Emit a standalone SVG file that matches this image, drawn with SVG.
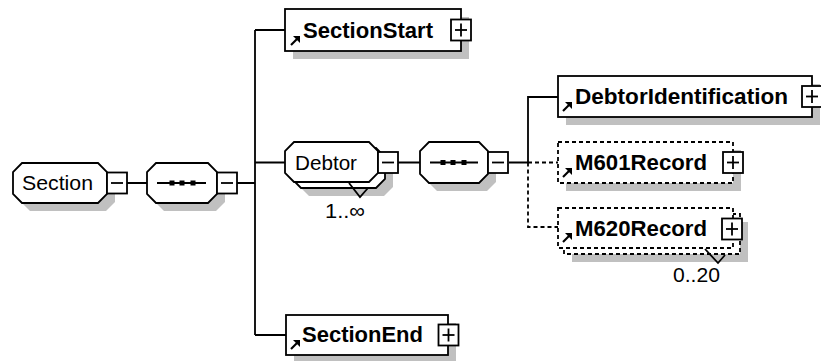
<svg xmlns="http://www.w3.org/2000/svg" xmlns:xlink="http://www.w3.org/1999/xlink" width="821" height="361" viewBox="0 0 821 361">
<defs>
<style>
.sh{fill:#c0c0c0;stroke:none}
.bx{fill:#fff;stroke:#000;stroke-width:1.8}
.ds{stroke-dasharray:4 3}
.ln{fill:none;stroke:#000;stroke-width:1.8}
.t{font-family:"Liberation Sans",Arial,sans-serif;font-size:21px;fill:#000}
.b{font-weight:bold;font-size:22px}
</style>
<g id="arr"><line x1="1" y1="9" x2="7" y2="3" stroke="#000" stroke-width="2.2"/><polygon points="10,0 10,7 3,0" fill="#000"/></g>
<g id="minus"><rect class="bx" x="0" y="0" width="20" height="21"/><line x1="4" y1="10.5" x2="16" y2="10.5" stroke="#000" stroke-width="1.8"/></g>
<g id="plus"><rect class="bx" x="0" y="0" width="20" height="21"/><line x1="4" y1="10.5" x2="16" y2="10.5" stroke="#000" stroke-width="1.8"/><line x1="10" y1="4" x2="10" y2="17" stroke="#000" stroke-width="1.8"/></g>
</defs>
<rect width="821" height="361" fill="#fff"/>

<g id="connectors">
<path class="ln" d="M127,183H147M237,183H255M255,30V335M255,30H285M255,162.5H285M255,335H286M398,162.5H420M509,162.5H528M528,162.5V97H558"/>
<path class="ln ds" d="M528,162.5H558M528,162.5V227H558"/>
</g>

<g id="section">
<path class="sh" transform="translate(8,8)" d="M22,163H98L107,172V194L98,203H22L13,194V172Z"/>
<path class="bx" d="M22,163H98L107,172V194L98,203H22L13,194V172Z"/>
<text class="t" x="22" y="190" textLength="71" lengthAdjust="spacingAndGlyphs">Section</text>
<use xlink:href="#minus" x="107" y="172.5"/>
</g>

<g id="seq1">
<path class="sh" transform="translate(8,8)" d="M156,163H208L217,172V194L208,203H156L147,194V172Z"/>
<path class="bx" d="M156,163H208L217,172V194L208,203H156L147,194V172Z"/>
<line x1="157" y1="183" x2="206" y2="183" stroke="#000" stroke-width="1.8"/>
<rect x="169.5" y="180.5" width="5" height="5"/><rect x="179.5" y="180.5" width="5" height="5"/><rect x="190.5" y="180.5" width="5" height="5"/>
<use xlink:href="#minus" x="217" y="172.5"/>
</g>

<g id="sectionstart">
<rect class="sh" x="293" y="17" width="176" height="42"/>
<rect class="bx" x="285" y="9" width="176" height="42"/>
<text class="t b" x="303" y="37.5" textLength="130" lengthAdjust="spacingAndGlyphs">SectionStart</text>
<use xlink:href="#arr" x="290" y="36"/>
<use xlink:href="#plus" x="451" y="19.5"/>
</g>

<g id="debtor">
<path class="sh" transform="translate(15,14)" d="M294,142H369L378,151V173L369,182H294L285,173V151Z"/>
<path class="bx" transform="translate(7,6)" d="M294,142H369L378,151V173L369,182H294L285,173V151Z"/>
<path class="bx" d="M294,142H369L378,151V173L369,182H294L285,173V151Z"/>
<text class="t" x="295" y="170" textLength="62" lengthAdjust="spacingAndGlyphs">Debtor</text>
<use xlink:href="#minus" x="378" y="152"/>
<polyline class="ln" points="349,183 360,197 368,188"/>
<text class="t" x="325" y="218" textLength="40" lengthAdjust="spacingAndGlyphs">1..∞</text>
</g>

<g id="seq2">
<path class="sh" transform="translate(8,8)" d="M429,142H479L488,151V174L479,183H429L420,174V151Z"/>
<path class="bx" d="M429,142H479L488,151V174L479,183H429L420,174V151Z"/>
<line x1="430" y1="162.5" x2="478" y2="162.5" stroke="#000" stroke-width="1.8"/>
<rect x="440.5" y="160" width="5" height="5"/><rect x="450.5" y="160" width="5" height="5"/><rect x="461.5" y="160" width="5" height="5"/>
<use xlink:href="#minus" x="488" y="152"/>
</g>

<g id="debtoridentification">
<rect class="sh" x="566" y="84" width="254" height="41"/>
<rect class="bx" x="558" y="76" width="254" height="41"/>
<text class="t b" x="575" y="104" textLength="213" lengthAdjust="spacingAndGlyphs">DebtorIdentification</text>
<use xlink:href="#arr" x="562" y="102"/>
<use xlink:href="#plus" x="802" y="86"/>
</g>

<g id="m601record">
<rect class="sh" x="566" y="150" width="175" height="41"/>
<rect class="bx ds" x="558" y="142" width="175" height="41"/>
<text class="t b" x="575" y="170" textLength="132" lengthAdjust="spacingAndGlyphs">M601Record</text>
<use xlink:href="#arr" x="562" y="168"/>
<use xlink:href="#plus" x="723" y="152"/>
</g>

<g id="m620record">
<rect class="sh" x="572" y="222" width="176" height="40"/>
<rect class="bx ds" x="564" y="214" width="176" height="40"/>
<rect class="bx ds" x="558" y="208" width="175" height="40"/>
<text class="t b" x="575" y="235.5" textLength="132" lengthAdjust="spacingAndGlyphs">M620Record</text>
<use xlink:href="#arr" x="562" y="233"/>
<use xlink:href="#plus" x="722" y="218.5"/>
<polyline class="ln" points="705,249 718,263 725,255"/>
<text class="t" x="673" y="282" textLength="47" lengthAdjust="spacingAndGlyphs">0..20</text>
</g>

<g id="sectionend">
<rect class="sh" x="294" y="323" width="162" height="40"/>
<rect class="bx" x="286" y="315" width="162" height="40"/>
<text class="t b" x="302" y="342" textLength="121" lengthAdjust="spacingAndGlyphs">SectionEnd</text>
<use xlink:href="#arr" x="290" y="340"/>
<use xlink:href="#plus" x="438.5" y="324.5"/>
</g>
</svg>
